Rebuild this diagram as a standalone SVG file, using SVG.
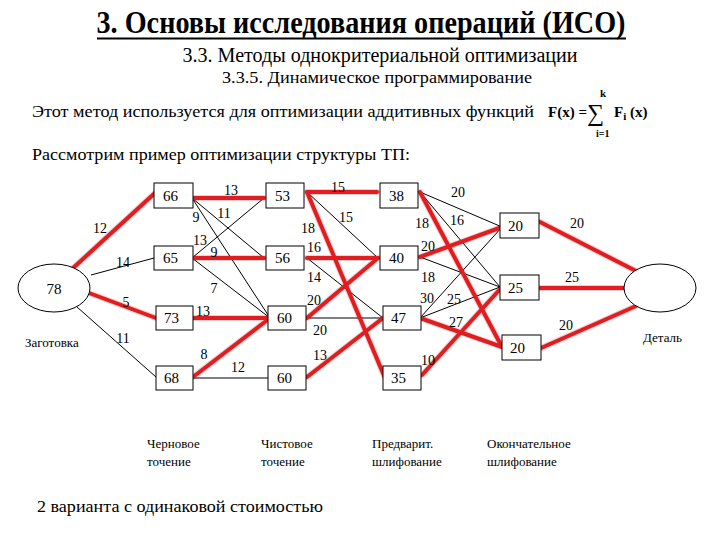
<svg xmlns="http://www.w3.org/2000/svg" width="720" height="540" viewBox="0 0 720 540">
<style>
text{font-family:'Liberation Serif',serif;fill:#000}
.t{font-size:17px}
.n{font-size:15px}
.e{font-size:14px;text-anchor:middle}
.c{font-size:13px}
.box{fill:#fff;stroke:#000;stroke-width:1}
.thin{stroke:#000;stroke-width:1;fill:none}
.red{stroke:#e01e22;stroke-width:4;fill:none;stroke-linecap:round}
.halo{stroke:#f8cccc;stroke-width:6;fill:none;stroke-linecap:round}
</style>
<rect width="720" height="540" fill="#fff"/>
<g id="title">
<text x="361" y="33" font-size="31" font-weight="bold" text-anchor="middle" textLength="529" lengthAdjust="spacingAndGlyphs">3. Основы исследования операций (ИСО)</text>
<line x1="97" y1="38.5" x2="626" y2="38.5" stroke="#000" stroke-width="2"/>
<text x="380" y="62" font-size="20" text-anchor="middle" textLength="395" lengthAdjust="spacingAndGlyphs">3.3. Методы однокритериальной оптимизации</text>
<text x="377" y="83" font-size="17" text-anchor="middle" textLength="310" lengthAdjust="spacingAndGlyphs">3.3.5. Динамическое программирование</text>
<text x="32" y="117" class="t" textLength="502" lengthAdjust="spacingAndGlyphs">Этот метод используется  для оптимизации аддитивных функций</text>
<text x="548" y="117" font-size="15" font-weight="bold">F(x) =</text>
<text x="587" y="121" font-size="24">∑</text>
<text x="600" y="97" font-size="11" font-weight="bold">k</text>
<text x="596" y="137" font-size="10" font-weight="bold">i=1</text>
<text x="614" y="117" font-size="15" font-weight="bold">F<tspan font-size="11" dy="3">i</tspan><tspan dy="-3"> (x)</tspan></text>
<text x="32" y="160" class="t" textLength="378" lengthAdjust="spacingAndGlyphs">Рассмотрим пример оптимизации структуры ТП:</text>
</g>
<g id="connectors">
<g class="halo">
<line x1="72" y1="269" x2="156" y2="192"/><line x1="89" y1="293" x2="156" y2="318"/>
<line x1="192" y1="198" x2="264" y2="198"/><line x1="192" y1="258" x2="264" y2="258"/>
<line x1="192" y1="318" x2="270" y2="318"/><line x1="193" y1="377" x2="270" y2="318"/>
<line x1="307" y1="192" x2="377" y2="192"/><line x1="307" y1="192" x2="385" y2="378"/>
<line x1="307" y1="258" x2="378" y2="258"/><line x1="307" y1="318" x2="378" y2="258"/>
<line x1="307" y1="377" x2="383" y2="318"/><line x1="420" y1="192" x2="502" y2="347"/>
<line x1="420" y1="257" x2="502" y2="227"/><line x1="420" y1="318" x2="502" y2="347"/>
<line x1="422" y1="375" x2="502" y2="287"/><line x1="540" y1="222" x2="636" y2="271"/>
<line x1="540" y1="288" x2="624" y2="288"/><line x1="541" y1="348" x2="636" y2="306"/>
</g>
<g class="thin">
<line x1="91" y1="275" x2="154" y2="258"/><line x1="77" y1="307" x2="156" y2="377"/>
<line x1="192" y1="198" x2="264" y2="258"/><line x1="192" y1="198" x2="270" y2="318"/>
<line x1="192" y1="258" x2="264" y2="198"/><line x1="192" y1="258" x2="270" y2="318"/>
<line x1="193" y1="378" x2="268" y2="378"/><line x1="307" y1="192" x2="378" y2="258"/>
<line x1="307" y1="258" x2="383" y2="318"/><line x1="307" y1="318" x2="383" y2="318"/>
<line x1="420" y1="192" x2="502" y2="227"/><line x1="420" y1="192" x2="500" y2="287"/>
<line x1="420" y1="257" x2="500" y2="287"/><line x1="420" y1="318" x2="502" y2="227"/>
<line x1="420" y1="318" x2="500" y2="287"/>
</g>
<g class="red">
<line x1="72" y1="269" x2="156" y2="192"/><line x1="89" y1="293" x2="156" y2="318"/>
<line x1="192" y1="198" x2="264" y2="198"/><line x1="192" y1="258" x2="264" y2="258"/>
<line x1="192" y1="318" x2="270" y2="318"/><line x1="193" y1="377" x2="270" y2="318"/>
<line x1="307" y1="192" x2="377" y2="192"/><line x1="307" y1="192" x2="385" y2="378"/>
<line x1="307" y1="258" x2="378" y2="258"/><line x1="307" y1="318" x2="378" y2="258"/>
<line x1="307" y1="377" x2="383" y2="318"/><line x1="420" y1="192" x2="502" y2="347"/>
<line x1="420" y1="257" x2="502" y2="227"/><line x1="420" y1="318" x2="502" y2="347"/>
<line x1="422" y1="375" x2="502" y2="287"/><line x1="540" y1="222" x2="636" y2="271"/>
<line x1="540" y1="288" x2="624" y2="288"/><line x1="541" y1="348" x2="636" y2="306"/>
</g>
<g id="edge-labels">
<text class="e" x="100" y="233">12</text><text class="e" x="123" y="267">14</text>
<text class="e" x="126" y="307">5</text><text class="e" x="123" y="343">11</text>
<text class="e" x="231" y="195">13</text><text class="e" x="196" y="222">9</text>
<text class="e" x="224" y="218">11</text><text class="e" x="200" y="245">13</text>
<text class="e" x="214" y="257">9</text><text class="e" x="214" y="293">7</text>
<text class="e" x="203" y="316">13</text><text class="e" x="204" y="359">8</text>
<text class="e" x="238" y="372">12</text>
<text class="e" x="338" y="192">15</text><text class="e" x="346" y="222">15</text>
<text class="e" x="308" y="233">18</text><text class="e" x="314" y="252">16</text>
<text class="e" x="314" y="282">14</text><text class="e" x="314" y="305">20</text>
<text class="e" x="320" y="335">20</text><text class="e" x="320" y="360">13</text>
<text class="e" x="458" y="197">20</text><text class="e" x="457" y="225">16</text>
<text class="e" x="422" y="228">18</text><text class="e" x="428" y="251">20</text>
<text class="e" x="428" y="282">18</text><text class="e" x="427" y="303">30</text>
<text class="e" x="454" y="304">25</text><text class="e" x="456" y="327">27</text>
<text class="e" x="428" y="365">10</text>
<text class="e" x="577" y="228">20</text><text class="e" x="572" y="282">25</text>
<text class="e" x="566" y="330">20</text>
</g>
</g>
<g id="n78"><ellipse class="box" cx="54" cy="288" rx="36" ry="24"/><text class="n" x="54" y="294" text-anchor="middle">78</text><text class="c" x="25" y="347">Заготовка</text></g>
<g id="n66"><rect class="box" x="154" y="183" width="39" height="25"/><text class="n" x="163" y="201">66</text></g>
<g id="n65"><rect class="box" x="154" y="246" width="39" height="24"/><text class="n" x="163" y="263">65</text></g>
<g id="n73"><rect class="box" x="156" y="306" width="37" height="24"/><text class="n" x="164" y="323">73</text></g>
<g id="n68"><rect class="box" x="156" y="366" width="37" height="24"/><text class="n" x="164" y="383">68</text></g>
<g id="n53"><rect class="box" x="266" y="183" width="38" height="25"/><text class="n" x="275" y="201">53</text></g>
<g id="n56"><rect class="box" x="266" y="246" width="38" height="24"/><text class="n" x="275" y="263">56</text></g>
<g id="n60a"><rect class="box" x="268" y="306" width="38" height="24"/><text class="n" x="277" y="323">60</text></g>
<g id="n60b"><rect class="box" x="268" y="366" width="38" height="24"/><text class="n" x="277" y="383">60</text></g>
<g id="n38"><rect class="box" x="380" y="183" width="38" height="25"/><text class="n" x="389" y="201">38</text></g>
<g id="n40"><rect class="box" x="380" y="246" width="38" height="24"/><text class="n" x="389" y="263">40</text></g>
<g id="n47"><rect class="box" x="383" y="306" width="38" height="24"/><text class="n" x="391" y="323">47</text></g>
<g id="n35"><rect class="box" x="383" y="366" width="38" height="24"/><text class="n" x="391" y="383">35</text></g>
<g id="n20a"><rect class="box" x="500" y="213" width="39" height="25"/><text class="n" x="508" y="231">20</text></g>
<g id="n25"><rect class="box" x="500" y="275" width="39" height="25"/><text class="n" x="508" y="293">25</text></g>
<g id="n20b"><rect class="box" x="502" y="335" width="39" height="25"/><text class="n" x="510" y="353">20</text></g>
<g id="detail"><ellipse class="box" cx="660" cy="288" rx="36" ry="24"/><text class="c" x="643" y="342">Деталь</text></g>
<g id="captions">
<text class="c" x="147" y="448">Черновое</text><text class="c" x="147" y="466">точение</text>
<text class="c" x="261" y="448">Чистовое</text><text class="c" x="261" y="466">точение</text>
<text class="c" x="372" y="448">Предварит.</text><text class="c" x="372" y="466">шлифование</text>
<text class="c" x="487" y="448">Окончательное</text><text class="c" x="487" y="466">шлифование</text>
<text class="t" x="37" y="512" textLength="286" lengthAdjust="spacingAndGlyphs">2 варианта с одинаковой стоимостью</text>
</g>
</svg>
